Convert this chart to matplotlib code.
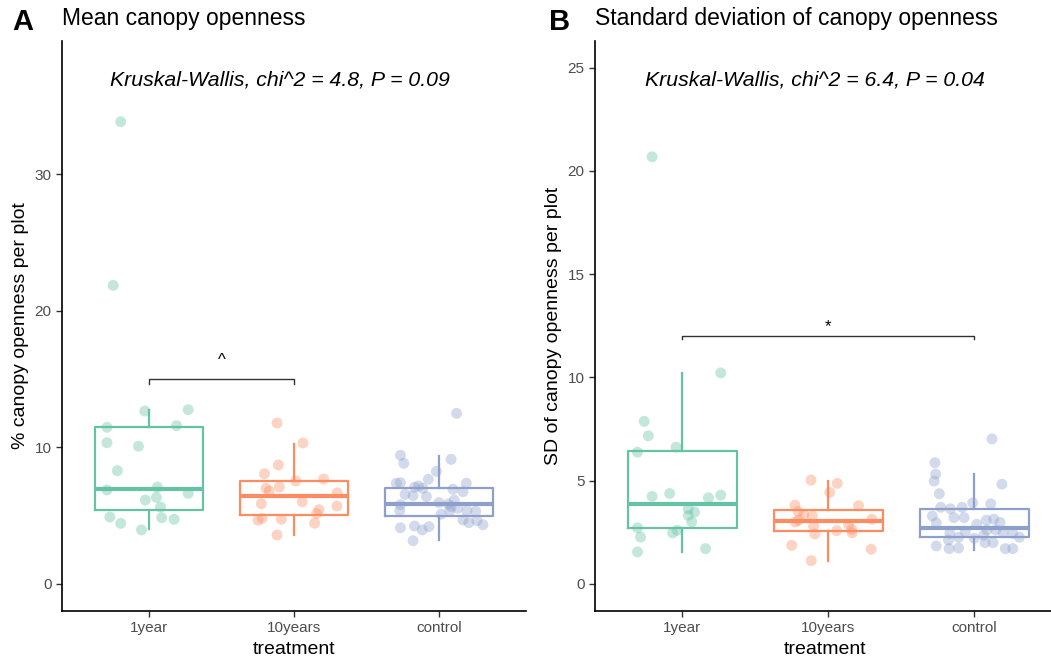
import matplotlib
matplotlib.use("Agg")
import matplotlib.pyplot as plt

plt.rcParams['font.family'] = ['Liberation Sans', 'DejaVu Sans']

# treatment groups and colours (Set2)
groups = ['1year', '10years', 'control']
colors = ['#66C2A5', '#FC8D62', '#8DA0CB']

# ---- panel A: mean canopy openness per plot ----
a_1year = [12.67, 12.77, 11.48, 11.6, 10.35, 10.09, 8.3, 6.89, 7.1, 6.64, 6.35, 6.15,
           5.64, 4.91, 4.44, 4.86, 4.74, 3.96, 33.87, 21.88]
a_1year_jit = [-0.029, 0.27, -0.29, 0.19, -0.29, -0.073, -0.218, -0.29, 0.058, 0.27, 0.051,
               -0.025, 0.079, -0.27, -0.195, 0.087, 0.173, -0.052, -0.195, -0.247]
a_10years = [11.79, 10.33, 8.72, 8.08, 7.69, 7.55, 7.11, 7.01, 6.81, 6.67, 6.03, 5.88,
             5.71, 5.44, 5.15, 4.81, 4.67, 4.74, 4.45, 3.59]
a_10years_jit = [-0.117, 0.062, -0.108, -0.204, 0.204, 0.012, -0.101, -0.193, -0.171, 0.298,
                 0.057, -0.225, 0.296, 0.172, 0.156, -0.22, -0.248, -0.087, 0.142, -0.117]
a_control = [12.5, 9.43, 8.84, 9.13, 8.25, 7.67, 7.38, 7.42, 7.38, 7.08, 7.18, 7.01, 6.94,
             6.76, 6.57, 6.47, 6.4, 6.15, 5.96, 5.86, 5.81, 5.66, 5.55, 5.37, 5.37, 5.37,
             5.33, 5.11, 4.69, 4.49, 4.64, 4.34, 4.12, 4.25, 3.96, 4.2, 3.17]
a_control_jit = [0.121, -0.266, -0.243, 0.083, -0.018, -0.074, -0.294, -0.266, 0.188, -0.169,
                 -0.142, -0.112, 0.096, 0.165, -0.234, -0.179, -0.087, 0.105, 0.0, 0.064,
                 -0.266, 0.083, 0.129, -0.271, 0.074, 0.193, 0.253, 0.014, 0.165, 0.206,
                 0.261, 0.303, -0.266, -0.169, -0.115, -0.069, -0.179]
# box stats: whislo, q1, med, q3, whishi
a_box = [[4.0, 5.42, 6.98, 11.48, 12.75],
         [3.59, 5.05, 6.42, 7.52, 10.26],
         [3.22, 4.98, 5.86, 7.03, 9.38]]

# ---- panel B: SD of canopy openness per plot ----
b_1year = [10.22, 7.87, 7.17, 6.38, 6.62, 4.24, 4.38, 4.17, 4.30, 3.63, 3.48, 3.32, 3.01,
           2.72, 2.27, 2.60, 2.47, 1.71, 1.55, 20.68]
b_1year_jit = [0.262, -0.262, -0.234, -0.308, -0.044, -0.208, -0.088, 0.178, 0.262, 0.04,
               0.083, 0.04, 0.063, -0.308, -0.287, -0.037, -0.067, 0.158, -0.308, -0.208]
b_10years = [5.03, 4.87, 4.43, 3.81, 3.79, 3.51, 3.35, 3.29, 3.13, 3.09, 3.0, 2.80, 2.88,
             2.64, 2.58, 2.42, 2.48, 1.87, 1.68, 1.13]
b_10years_jit = [-0.12, 0.060, 0.009, -0.229, 0.206, -0.208, -0.169, -0.111, 0.297, -0.203,
                 -0.227, -0.102, 0.137, 0.16, 0.056, -0.093, 0.162, -0.252, 0.292, -0.118]
b_control = [7.02, 5.87, 5.32, 4.98, 4.83, 4.37, 3.93, 3.88, 3.71, 3.64, 3.71, 3.29, 3.21,
             3.21, 2.96, 3.09, 3.14, 2.98, 2.89, 2.45, 2.53, 2.61, 2.48, 2.45, 2.61, 2.26,
             2.21, 2.35, 2.26, 2.13, 2.0, 2.0, 1.84, 1.71, 1.74, 1.71, 1.71]
b_control_jit = [0.120, -0.271, -0.266, -0.276, 0.188, -0.241, -0.012, 0.111, -0.231, -0.165,
                 -0.085, -0.289, -0.141, -0.071, -0.262, 0.081, 0.132, 0.175, 0.015, -0.169,
                 -0.063, 0.085, 0.196, 0.262, 0.146, -0.109, -0.002, 0.063, 0.308, -0.178,
                 0.072, 0.127, -0.262, -0.174, -0.109, 0.211, 0.262]
b_box = [[1.53, 2.69, 3.85, 6.45, 10.19],
         [1.13, 2.55, 3.05, 3.58, 5.0],
         [1.64, 2.26, 2.71, 3.61, 5.30]]


def draw_panel(ax, values, jitters, boxes, ylim, yticks):
    for i, (vals, jit, col) in enumerate(zip(values, jitters, colors)):
        xs = [i + 1 + j for j in jit]
        ax.scatter(xs, vals, s=62, color=col, alpha=0.38, edgecolors='none', zorder=2)
        st = dict(whislo=boxes[i][0], q1=boxes[i][1], med=boxes[i][2],
                  q3=boxes[i][3], whishi=boxes[i][4], fliers=[])
        ax.bxp([st], positions=[i + 1], widths=0.75, showcaps=False, showfliers=False,
               patch_artist=False,
               boxprops=dict(color=col, linewidth=1.6),
               whiskerprops=dict(color=col, linewidth=1.6),
               medianprops=dict(color=col, linewidth=3),
               manage_ticks=False)
    ax.set_xlim(0.4, 3.6)
    ax.set_ylim(*ylim)
    ax.set_xticks([1, 2, 3])
    ax.set_xticklabels(groups)
    ax.set_yticks(yticks)
    ax.tick_params(axis='both', labelsize=11, labelcolor='#4D4D4D', color='#333333',
                   length=4, width=1)
    for s in ['top', 'right']:
        ax.spines[s].set_visible(False)
    for s in ['left', 'bottom']:
        ax.spines[s].set_linewidth(1.2)
    ax.set_xlabel('treatment', fontsize=14)


fig = plt.figure(figsize=(10.51, 6.57), dpi=100)
axA = fig.add_axes([0.059, 0.07, 0.4415, 0.868])
axB = fig.add_axes([0.566, 0.07, 0.439, 0.868])

draw_panel(axA, [a_1year, a_10years, a_control],
           [a_1year_jit, a_10years_jit, a_control_jit], a_box, (-1.98, 39.8), [0, 10, 20, 30])
axA.set_ylabel('% canopy openness per plot', fontsize=14)
axA.text(1.9, 36.9, 'Kruskal-Wallis, chi^2 = 4.8, P = 0.09', style='italic', fontsize=15.3,
         ha='center', va='center')
axA.plot([1, 1, 2, 2], [14.65, 15, 15, 14.65], color='#333333', linewidth=1)
axA.text(1.5, 16.4, '^', ha='center', va='center', fontsize=12)

draw_panel(axB, [b_1year, b_10years, b_control],
           [b_1year_jit, b_10years_jit, b_control_jit], b_box, (-1.31, 26.3),
           [0, 5, 10, 15, 20, 25])
axB.set_xlim(0.4, 3.56)
axB.set_ylabel('SD of canopy openness per plot', fontsize=14)
axB.text(1.906, 24.4, 'Kruskal-Wallis, chi^2 = 6.4, P = 0.04', style='italic', fontsize=15.3,
         ha='center', va='center')
axB.plot([1, 1, 3, 3], [11.85, 12.0, 12.0, 11.85], color='#333333', linewidth=1)
axB.text(2, 12.45, '*', ha='center', va='center', fontsize=12)

fig.text(0.059, 0.972, 'Mean canopy openness', fontsize=16.5, va='center', ha='left')
fig.text(0.566, 0.972, 'Standard deviation of canopy openness', fontsize=16.5, va='center',
         ha='left')
fig.text(0.012, 0.966, 'A', fontsize=21, fontweight='bold', va='center', ha='left')
fig.text(0.522, 0.966, 'B', fontsize=21, fontweight='bold', va='center', ha='left')

fig.savefig('out.png', dpi=100)
